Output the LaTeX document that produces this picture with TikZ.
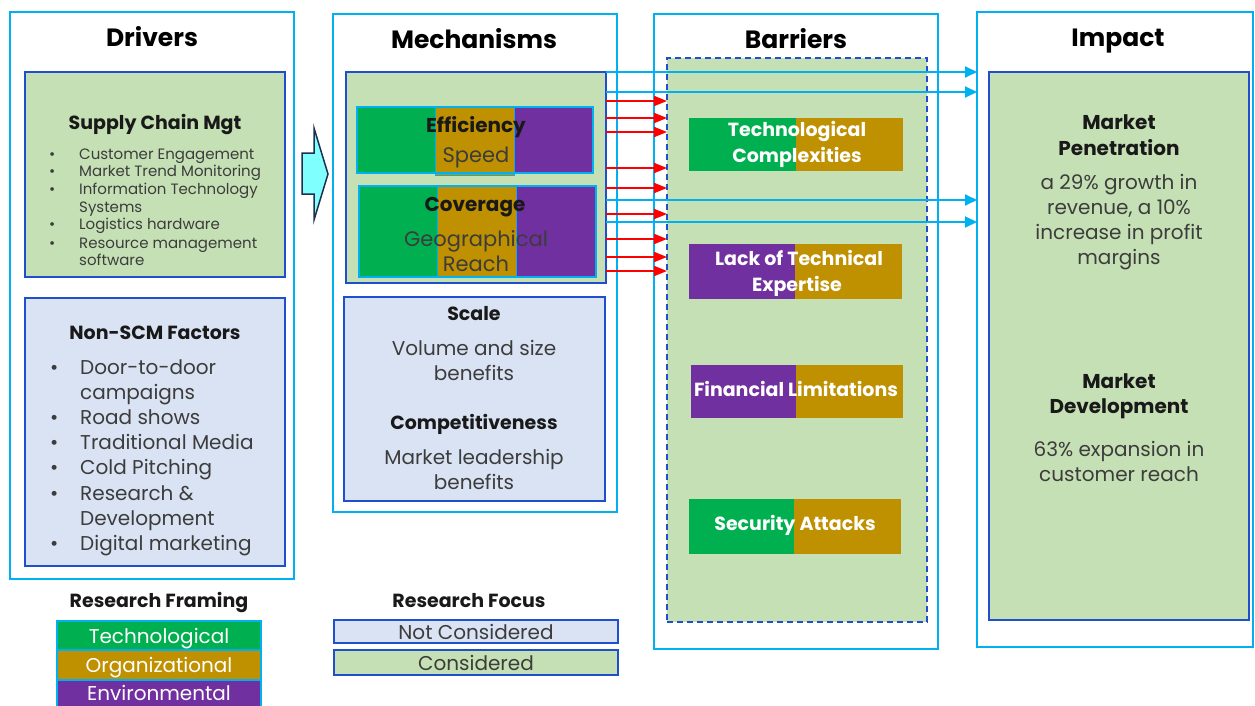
\documentclass[tikz,border=0pt]{standalone}
\usepackage{fontspec}
\setmainfont{Poppins}
\usetikzlibrary{arrows.meta}

\definecolor{framecyan}{HTML}{00B0F0}
\definecolor{edgeblue}{HTML}{1F4FCD}
\definecolor{consgreen}{HTML}{C5E0B4}
\definecolor{notblue}{HTML}{DAE3F3}
\definecolor{techgreen}{HTML}{00B050}
\definecolor{orggold}{HTML}{BF9000}
\definecolor{envpurple}{HTML}{7030A0}
\definecolor{shaftcyan}{HTML}{80FFFF}
\definecolor{navyline}{HTML}{1F2F4F}
\definecolor{bodygray}{HTML}{3C3C3C}

\newcommand\setsz[2]{\fontsize{#1}{#2}\selectfont}

\tikzset{
  panel/.style={draw=framecyan, line width=1.6pt, anchor=north west, inner sep=0pt, outer sep=0pt},
  cons/.style={draw=edgeblue, fill=consgreen, line width=2pt, anchor=north west, inner sep=0pt, outer sep=0pt},
  notcons/.style={cons, fill=notblue},
  dashbox/.style={cons, line width=2.2pt, dash pattern=on 6pt off 4pt},
  seg/.style={draw=framecyan, line width=1pt},
  segframe/.style={draw=framecyan, line width=2pt, anchor=north west, inner sep=0pt, outer sep=0pt},
  barframe/.style={anchor=north west, inner sep=0pt, outer sep=0pt},
  legendbox/.style={draw=framecyan, line width=1.6pt, anchor=north west, inner sep=0pt, outer sep=0pt},
  heading/.style={font=\bfseries\setsz{25}{30}, text=black, anchor=base, inner sep=0pt},
  subhead/.style={font=\bfseries\setsz{19}{22}, text=black!90, anchor=base, inner sep=0pt},
  bodytext/.style={font=\setsz{20}{24}, text=bodygray, anchor=base, inner sep=0pt},
  smalllist/.style={font=\setsz{15}{17}, text=bodygray, anchor=base west, inner sep=0pt},
  biglist/.style={font=\setsz{20}{24}, text=bodygray, anchor=base west, inner sep=0pt},
  barlabel/.style={font=\bfseries\setsz{19}{22}, text=white, anchor=base, inner sep=0pt},
  legendtext/.style={font=\setsz{20}{24}, text=white, anchor=base, inner sep=0pt},
  redarr/.style={draw=red, line width=1.8pt, -{Triangle[length=13pt,width=10pt]}},
  cyanarr/.style={draw=framecyan, line width=1.8pt, -{Triangle[length=12pt,width=11pt]}},
}

\begin{document}
\begin{tikzpicture}[x=1pt, y=-1pt]
\useasboundingbox (0,0) rectangle (1255,706);

% ---------- column frames ----------
\node[panel, minimum width=284, minimum height=567] (drv) at (10,12) {};
\node[panel, minimum width=284, minimum height=498] (mechP) at (333,14) {};
\node[panel, minimum width=284, minimum height=635] (barP) at (654,14) {};
\node[panel, minimum width=276, minimum height=635] (impP) at (977,12) {};

\node[heading] (tDrv) at (152,47) {Drivers};
\node[heading] (tMech) at (474,49) {Mechanisms};
\node[heading] (tBar) at (796,49) {Barriers};
\node[heading] (tImp) at (1118,47) {Impact};

% ---------- drivers ----------
\node[cons, minimum width=260, minimum height=205] (scm) at (25,72) {};
\node[subhead] (scmT) at (155,130) {Supply Chain Mgt};
\foreach \y/\b/\t [count=\i] in {
  154/1/Customer Engagement,
  171/1/Market Trend Monitoring,
  189/1/Information Technology,
  207/0/Systems,
  224/1/Logistics hardware,
  243/1/Resource management,
  260/0/software}{
  \node[smalllist] (scm\i) at (79,\y+5) {\t};
  \ifnum\b=1 \node[smalllist] (scmb\i) at (49,\y+5) {\textbullet}; \fi
}

\node[notcons, minimum width=260, minimum height=268] (nscm) at (25,298) {};
\node[subhead] (nscmT) at (155,339) {Non-SCM Factors};
\foreach \y/\b/\t [count=\i] in {
  367/1/Door-to-door,
  392/0/campaigns,
  417/1/Road shows,
  442/1/Traditional Media,
  467/1/Cold Pitching,
  493/1/Research \&,
  518/0/Development,
  543/1/Digital marketing}{
  \node[biglist] (ns\i) at (80,\y+7) {\t};
  \ifnum\b=1 \node[biglist] (nsb\i) at (50,\y+7) {\textbullet}; \fi
}

% block arrow between drivers and mechanisms
\draw[fill=shaftcyan, draw=navyline, line width=1.5pt, line join=miter]
  (302,153) -- (314,153) -- (314,128) -- (328,174) -- (314,220) -- (314,194) -- (302,194) -- cycle;

% ---------- mechanisms ----------
\node[cons, minimum width=260, minimum height=211] (mech) at (346,72) {};

\fill[techgreen] (357,107) rectangle (435,173);
\fill[orggold] (435,107) rectangle (514,175);
\fill[envpurple] (514,107) rectangle (593,173);
\draw[seg] (435,107) rectangle (514,175);
\node[segframe, minimum width=236, minimum height=66] (eff) at (357,107) {};
\node[subhead, font=\bfseries\setsz{20}{24}] (effT) at (476,132) {Efficiency};
\node[bodytext, font=\setsz{21}{24}] (effS) at (476,162) {Speed};

\fill[techgreen] (359,186) rectangle (437,277);
\fill[orggold] (437,186) rectangle (516,277);
\fill[envpurple] (516,186) rectangle (596,277);
\draw[seg] (437,186) rectangle (516,277);
\node[segframe, minimum width=237, minimum height=91] (cov) at (359,186) {};
\node[subhead, font=\bfseries\setsz{20}{24}] (covT) at (475,211) {Coverage};
\node[bodytext, font=\setsz{21}{24}] (covS1) at (476,246) {Geographical};
\node[bodytext, font=\setsz{21}{24}] (covS2) at (476,271) {Reach};

\node[notcons, minimum width=261, minimum height=204] (scale) at (344,297) {};
\node[subhead] (scT) at (474,320) {Scale};
\node[bodytext] (sc1) at (474,355) {Volume and size};
\node[bodytext] (sc2) at (474,380) {benefits};
\node[subhead] (cpT) at (474,429) {Competitiveness};
\node[bodytext] (cp1) at (474,464) {Market leadership};
\node[bodytext] (cp2) at (474,489) {benefits};

% ---------- barriers ----------
\node[dashbox, minimum width=260, minimum height=564] (barbox) at (667,58) {};

\fill[techgreen] (689,118) rectangle (796,171);
\fill[orggold] (796,118) rectangle (903,171);
\node[barframe, minimum width=214, minimum height=53] (b1) at (689,118) {};
\node[barlabel] (b1a) at (797,137) {Technological};
\node[barlabel] (b1b) at (797,162) {Complexities};

\fill[envpurple] (689,244) rectangle (795,299);
\fill[orggold] (795,244) rectangle (902,299);
\node[barframe, minimum width=213, minimum height=55] (b2) at (689,244) {};
\node[barlabel] (b2a) at (799,265) {Lack of Technical};
\node[barlabel] (b2b) at (797,291) {Expertise};

\fill[envpurple] (691,365) rectangle (796,418);
\fill[orggold] (796,365) rectangle (903,418);
\node[barframe, minimum width=212, minimum height=53] (b3) at (691,365) {};
\node[barlabel] (b3a) at (796,396) {Financial Limitations};

\fill[techgreen] (689,499) rectangle (794,554);
\fill[orggold] (794,499) rectangle (901,554);
\node[barframe, minimum width=212, minimum height=55] (b4) at (689,499) {};
\node[barlabel] (b4a) at (795,530) {Security Attacks};

% ---------- impact ----------
\node[cons, minimum width=260, minimum height=548] (imp) at (989,72) {};
\node[subhead, font=\bfseries\setsz{20}{24}] (mpT1) at (1119,130) {Market};
\node[subhead, font=\bfseries\setsz{20}{24}] (mpT2) at (1119,155) {Penetration};
\foreach \y/\t [count=\i] in {182/a 29\% growth in, 207/{revenue, a 10\%}, 232/increase in profit, 257/margins}{
  \node[bodytext] (mp\i) at (1119,\y+7) {\t};
}
\node[subhead, font=\bfseries\setsz{20}{24}] (mdT1) at (1119,388) {Market};
\node[subhead, font=\bfseries\setsz{20}{24}] (mdT2) at (1119,413) {Development};
\node[bodytext] (md1) at (1119,456) {63\% expansion in};
\node[bodytext] (md2) at (1119,481) {customer reach};

% ---------- connectors ----------
\foreach \y in {101,118,132,168,188,214,239,257,271}{
  \draw[redarr] (mech.east |- 0,\y) -- (barbox.west |- 0,\y);
}
\foreach \y in {72,92,200,222}{
  \draw[cyanarr] (mech.east |- 0,\y) -- (impP.west |- 0,\y);
}

% ---------- legends ----------
\node[subhead] (lfT) at (159,607) {Research Framing};
\node[legendbox, fill=techgreen, minimum width=204, minimum height=29] (lf1) at (57,621) {};
\node[legendbox, fill=orggold, minimum width=204, minimum height=30] (lf2) at (57,650) {};
\node[legendbox, fill=envpurple, minimum width=204, minimum height=30] (lf3) at (57,680) {};
\node[legendtext] (lf1t) at (159,643) {Technological};
\node[legendtext] (lf2t) at (159,672) {Organizational};
\node[legendtext] (lf3t) at (159,700) {Environmental};

\node[subhead] (rfT) at (469,607) {Research Focus};
\node[notcons, minimum width=284, minimum height=23] (rf1) at (334,620) {};
\node[cons, minimum width=284, minimum height=25] (rf2) at (334,650) {};
\node[bodytext] (rf1t) at (476,639) {Not Considered};
\node[bodytext] (rf2t) at (476,670) {Considered};
\end{tikzpicture}
\end{document}
